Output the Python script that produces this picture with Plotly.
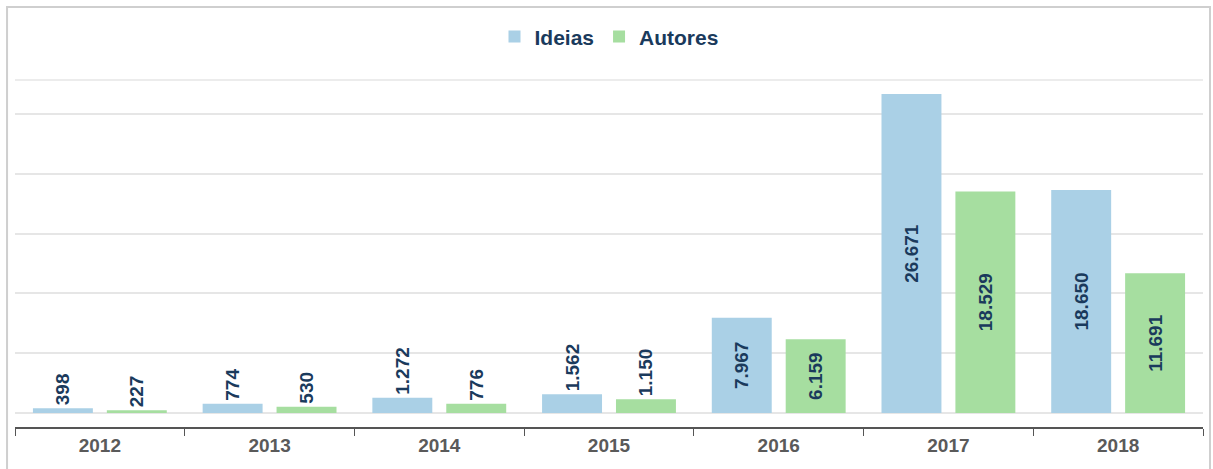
import plotly.graph_objects as go

years = ["2012", "2013", "2014", "2015", "2016", "2017", "2018"]
ideias = [398, 774, 1272, 1562, 7967, 26671, 18650]
autores = [227, 530, 776, 1150, 6159, 18529, 11691]

label_color = "#1a3a5c"
label_font = dict(family="Liberation Sans, Arial, sans-serif", size=19, color=label_color, weight="bold")

fig = go.Figure()
fig.add_trace(go.Bar(
    name="Ideias", x=years, y=ideias,
    marker=dict(color="#aad0e6", line=dict(width=0)),
    texttemplate="%{y:,}", textposition="auto", textangle=-90,
    insidetextanchor="middle", insidetextfont=label_font, outsidetextfont=label_font,
    constraintext="none", cliponaxis=False,
))
fig.add_trace(go.Bar(
    name="Autores", x=years, y=autores,
    marker=dict(color="#a6dea0", line=dict(width=0)),
    texttemplate="%{y:,}", textposition="auto", textangle=-90,
    insidetextanchor="middle", insidetextfont=label_font, outsidetextfont=label_font,
    constraintext="none", cliponaxis=False,
))

fig.update_layout(
    width=1213, height=469,
    margin=dict(l=15, r=10, t=80, b=42),
    paper_bgcolor="white", plot_bgcolor="white",
    separators=",.",
    barmode="group", bargap=0.129, bargroupgap=0.189,
    showlegend=True,
    legend=dict(orientation="h", x=0.5, xanchor="center", y=1.124, yanchor="middle",
                font=dict(family="Liberation Sans, Arial, sans-serif", size=21, color=label_color, weight="bold"),
                itemsizing="constant", traceorder="normal"),
    font=dict(family="Liberation Sans, Arial, sans-serif"),
    xaxis=dict(
        showline=True, linecolor="#555555", linewidth=1.5,
        ticks="outside", tickson="boundaries", ticklen=7, tickcolor="#555555",
        tickfont=dict(size=19, color="#5a5a5a", weight="bold"),
        showgrid=False,
    ),
    yaxis=dict(
        range=[-1171, 27842], dtick=5000, tick0=0,
        showticklabels=False, showgrid=True, gridcolor="#e6e6e6", gridwidth=1.5,
        zeroline=True, zerolinecolor="#e6e6e6", zerolinewidth=1.5,
        showline=False,
    ),
    shapes=[
        dict(type="line", xref="paper", yref="paper", x0=0, x1=1, y0=1, y1=1,
             line=dict(color="#e6e6e6", width=1.5), layer="below"),
        dict(type="rect", xref="paper", yref="paper", x0=-0.0067, x1=1.0059, y0=1.2104, y1=-0.13,
             line=dict(color="#cfcfcf", width=2), fillcolor="rgba(0,0,0,0)", layer="below"),
    ],
)

fig.write_html("out.html")
